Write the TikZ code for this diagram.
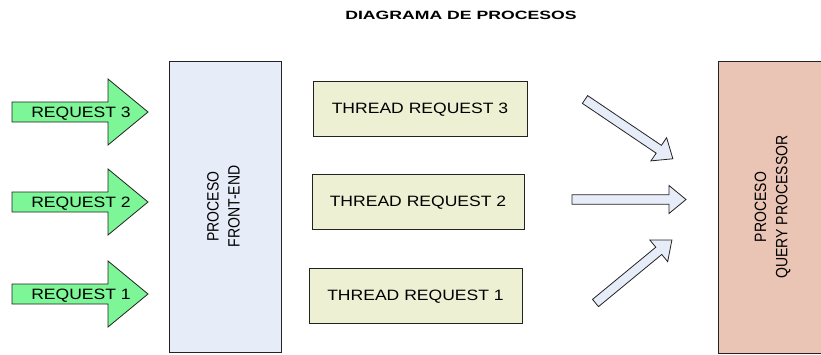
\documentclass[tikz,border=0pt]{standalone}
\usepackage{fontspec}
\setmainfont{Liberation Sans}
\usepackage{graphicx}

\definecolor{reqgreen}{RGB}{124,246,150}
\definecolor{feblue}{RGB}{230,236,248}
\definecolor{qpsalmon}{RGB}{234,197,181}
\definecolor{thfill}{RGB}{238,240,212}
\definecolor{edge}{RGB}{35,35,35}

% horizontal text is set slightly wide (with its depth ignored, so capitals
% sit centred), vertical text slightly thick
\newcommand{\wide}[1]{\raisebox{0pt}[\height][0pt]{\scalebox{1.17}[1]{#1}}}
\newcommand{\thick}[1]{\scalebox{1}[1.17]{#1}}

% green request arrow: #1 = centre of the shaft at its tail
\newcommand{\requestarrow}[1]{%
  \begin{scope}[shift={#1}]
    \draw[reqarrow] (0,-10) -- (96,-10) -- (96,-33) -- (136,0) -- (96,33) -- (96,10) -- (0,10) -- cycle;
  \end{scope}}

% hollow block arrow: #1 = tail point, #2 = angle, #3 = length
\newcommand{\flowarrow}[3]{%
  \begin{scope}[shift={#1}, rotate=#2]
    \draw[outarrow] (0,-4.7) -- ({#3-17},-4.7) -- ({#3-17},-14) -- (#3,0) -- ({#3-17},14) -- ({#3-17},4.7) -- (0,4.7) -- cycle;
  \end{scope}}

\begin{document}
\begin{tikzpicture}[x=1pt,y=-1pt,
  txt/.style={font=\fontsize{15}{18}\selectfont, inner sep=0pt, text=black},
  vtxt/.style={rotate=90, font=\fontsize{14}{18}\selectfont, inner sep=0pt, text=black},
  reqarrow/.style={draw=edge, line width=0.8pt, fill=reqgreen, line join=miter},
  outarrow/.style={draw=edge, line width=0.8pt, fill=feblue, line join=miter},
  procbox/.style={draw=edge, line width=0.9pt, rectangle, inner sep=0pt},
  threadbox/.style={draw=edge, line width=1pt, fill=thfill, rectangle, inner sep=0pt,
    minimum width=213pt, minimum height=55pt, font=\fontsize{15}{18}\selectfont}
]
\useasboundingbox (0,0) rectangle (821,354);

% title
\node[font=\fontsize{12}{14}\selectfont\bfseries, inner sep=0pt] (title) at (461,15)
  {\scalebox{1.47}[1]{DIAGRAMA DE PROCESOS}};

% incoming requests
\coordinate (r3) at (12,112);
\coordinate (r2) at (12,202);
\coordinate (r1) at (12,294);
\requestarrow{(r3)}
\requestarrow{(r2)}
\requestarrow{(r1)}
\node[txt] (req3) at (81,112) {\wide{REQUEST 3}};
\node[txt] (req2) at (81,202) {\wide{REQUEST 2}};
\node[txt] (req1) at (81,294) {\wide{REQUEST 1}};

% front-end process
\node[procbox, fill=feblue, minimum width=112pt, minimum height=291pt] (fe) at (225,206.5) {};
\node[vtxt] (fetext) at (fe.center)
  {\thick{\begin{tabular}{@{}c@{}}PROCESO\\FRONT-END\end{tabular}}};

% worker threads
\node[threadbox, minimum width=214pt] (t3) at (420,108.5) {\wide{THREAD REQUEST 3}};
\node[threadbox, minimum width=212pt] (t2) at (418,201.5) {\wide{THREAD REQUEST 2}};
\node[threadbox, minimum width=213pt] (t1) at (415.5,295.5) {\wide{THREAD REQUEST 1}};

% query processor process
\node[procbox, fill=qpsalmon, minimum width=109pt, minimum height=292pt] (qp) at (772.5,207) {};
\node[vtxt] (qptext) at (qp.center)
  {\thick{\begin{tabular}{@{}c@{}}PROCESO\\QUERY PROCESSOR\end{tabular}}};

% hand-off arrows towards the query processor
\coordinate (a3) at (585,99.5);
\coordinate (a2) at (572,199.5);
\coordinate (a1) at (595.5,303);
\flowarrow{(a3)}{-34}{106}
\flowarrow{(a2)}{0}{114}
\flowarrow{(a1)}{39.5}{99}
\end{tikzpicture}
\end{document}
